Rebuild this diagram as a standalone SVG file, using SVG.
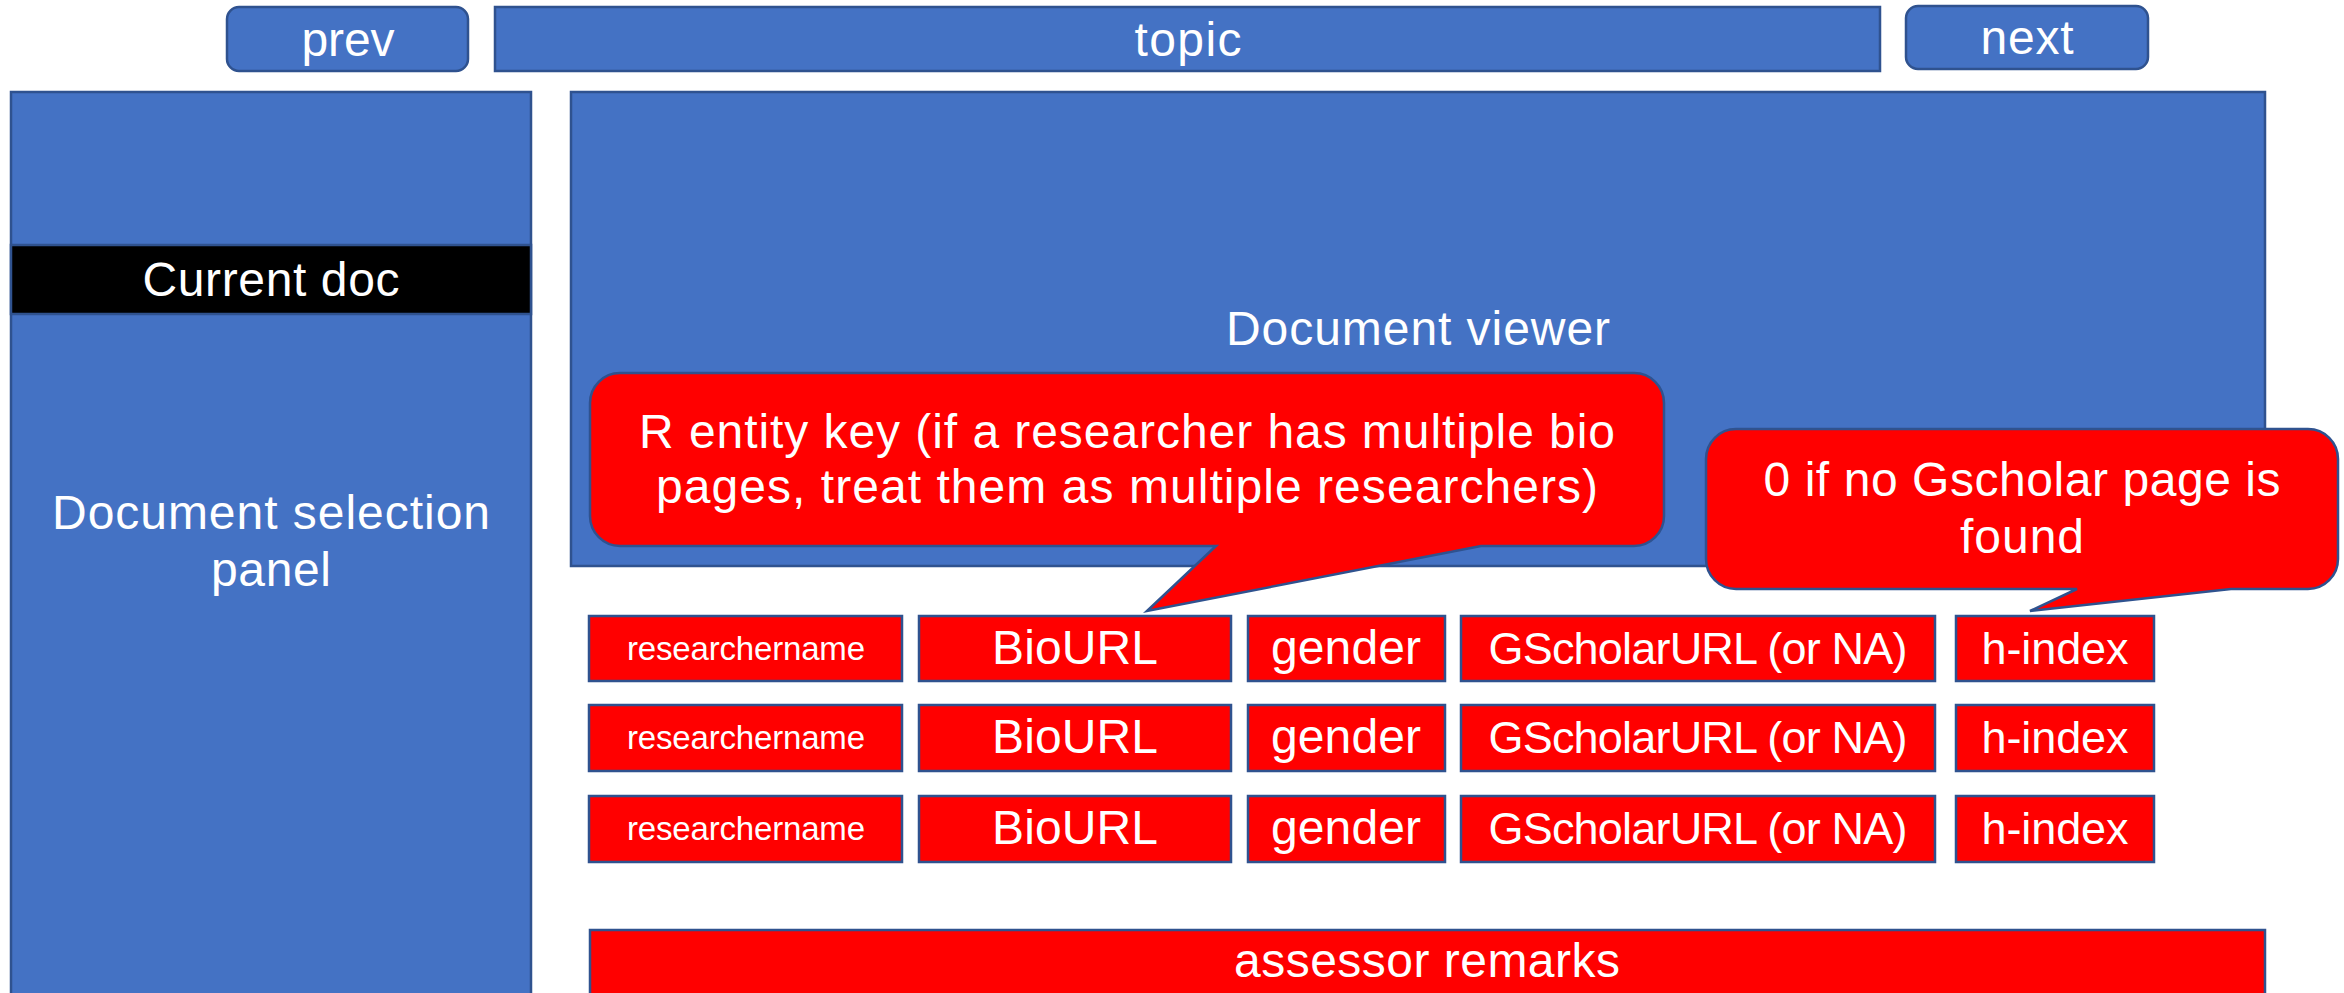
<svg xmlns="http://www.w3.org/2000/svg" width="2344" height="993" viewBox="0 0 2344 993">
<style>
.blue{fill:#4472C4;stroke:#2F528F;stroke-width:2.5}
.red{fill:#FF0000;stroke:#2F528F;stroke-width:2.5}
.blk{fill:#000000;stroke:#2F528F;stroke-width:2.5}
text{font-family:"Liberation Sans","Noto Sans",Arial,sans-serif;fill:#FFFFFF;text-anchor:middle;font-size:48px}
.sm{font-size:33px}
.md{font-size:45px}
.co{font-size:48px}
</style>
<rect width="2344" height="993" fill="#FFFFFF"/>
<g id="prev"><rect class="blue" x="227" y="7" width="241" height="64" rx="12"/><text x="348" y="56" textLength="93">prev</text></g>
<g id="topic"><rect class="blue" x="495" y="7" width="1385" height="64"/><text x="1188" y="56" textLength="107">topic</text></g>
<g id="next"><rect class="blue" x="1906" y="6" width="242" height="63" rx="12"/><text x="2027" y="54" textLength="93">next</text></g>
<g id="selection-panel"><rect class="blue" x="11" y="92" width="520" height="910"/><text x="271" y="529" textLength="438">Document selection</text><text x="271" y="586" textLength="120">panel</text></g>
<g id="current-doc"><rect class="blk" x="11" y="245" width="520" height="69"/><text x="271" y="296" textLength="257">Current doc</text></g>
<g id="document-viewer"><rect class="blue" x="571" y="92" width="1694" height="474"/><text x="1418" y="345" textLength="384">Document viewer</text></g>
<g id="row1">
<g id="r1-name"><rect class="red" x="589" y="616" width="313" height="65"/><text class="sm" x="746" y="660" textLength="238">researchername</text></g>
<g id="r1-bio"><rect class="red" x="919" y="616" width="312" height="65"/><text x="1075" y="664" textLength="166">BioURL</text></g>
<g id="r1-gender"><rect class="red" x="1248" y="616" width="197" height="65"/><text x="1346" y="664" textLength="150">gender</text></g>
<g id="r1-gs"><rect class="red" x="1461" y="616" width="474" height="65"/><text class="md" x="1698" y="664" textLength="419">GScholarURL (or NA)</text></g>
<g id="r1-h"><rect class="red" x="1956" y="616" width="198" height="65"/><text class="md" x="2055" y="664" textLength="147">h-index</text></g>
</g>
<g id="row2">
<g id="r2-name"><rect class="red" x="589" y="705" width="313" height="66"/><text class="sm" x="746" y="749" textLength="238">researchername</text></g>
<g id="r2-bio"><rect class="red" x="919" y="705" width="312" height="66"/><text x="1075" y="753" textLength="166">BioURL</text></g>
<g id="r2-gender"><rect class="red" x="1248" y="705" width="197" height="66"/><text x="1346" y="753" textLength="150">gender</text></g>
<g id="r2-gs"><rect class="red" x="1461" y="705" width="474" height="66"/><text class="md" x="1698" y="753" textLength="419">GScholarURL (or NA)</text></g>
<g id="r2-h"><rect class="red" x="1956" y="705" width="198" height="66"/><text class="md" x="2055" y="753" textLength="147">h-index</text></g>
</g>
<g id="row3">
<g id="r3-name"><rect class="red" x="589" y="796" width="313" height="66"/><text class="sm" x="746" y="840" textLength="238">researchername</text></g>
<g id="r3-bio"><rect class="red" x="919" y="796" width="312" height="66"/><text x="1075" y="844" textLength="166">BioURL</text></g>
<g id="r3-gender"><rect class="red" x="1248" y="796" width="197" height="66"/><text x="1346" y="844" textLength="150">gender</text></g>
<g id="r3-gs"><rect class="red" x="1461" y="796" width="474" height="66"/><text class="md" x="1698" y="844" textLength="419">GScholarURL (or NA)</text></g>
<g id="r3-h"><rect class="red" x="1956" y="796" width="198" height="66"/><text class="md" x="2055" y="844" textLength="147">h-index</text></g>
</g>
<g id="callout-key"><path class="red" d="M620,373 H1634 A30,30 0 0 1 1664,403 V516 A30,30 0 0 1 1634,546 H1481 L1147,611 L1216,546 H620 A30,30 0 0 1 590,516 V403 A30,30 0 0 1 620,373 Z"/><text class="co" x="1127" y="448" textLength="976">R entity key (if a researcher has multiple bio</text><text class="co" x="1127" y="503" textLength="942">pages, treat them as multiple researchers)</text></g>
<g id="callout-h"><path class="red" d="M1736,429 H2308 A30,30 0 0 1 2338,459 V559 A30,30 0 0 1 2308,589 H2231 L2030,611 L2077,589 H1736 A30,30 0 0 1 1706,559 V459 A30,30 0 0 1 1736,429 Z"/><text class="co" x="2022" y="496" textLength="517">0 if no Gscholar page is</text><text class="co" x="2022" y="553" textLength="124">found</text></g>
<g id="assessor-remarks"><rect class="red" x="590" y="930" width="1675" height="80"/><text x="1427" y="977" textLength="386">assessor remarks</text></g>
<g id="connectors"></g>
</svg>
